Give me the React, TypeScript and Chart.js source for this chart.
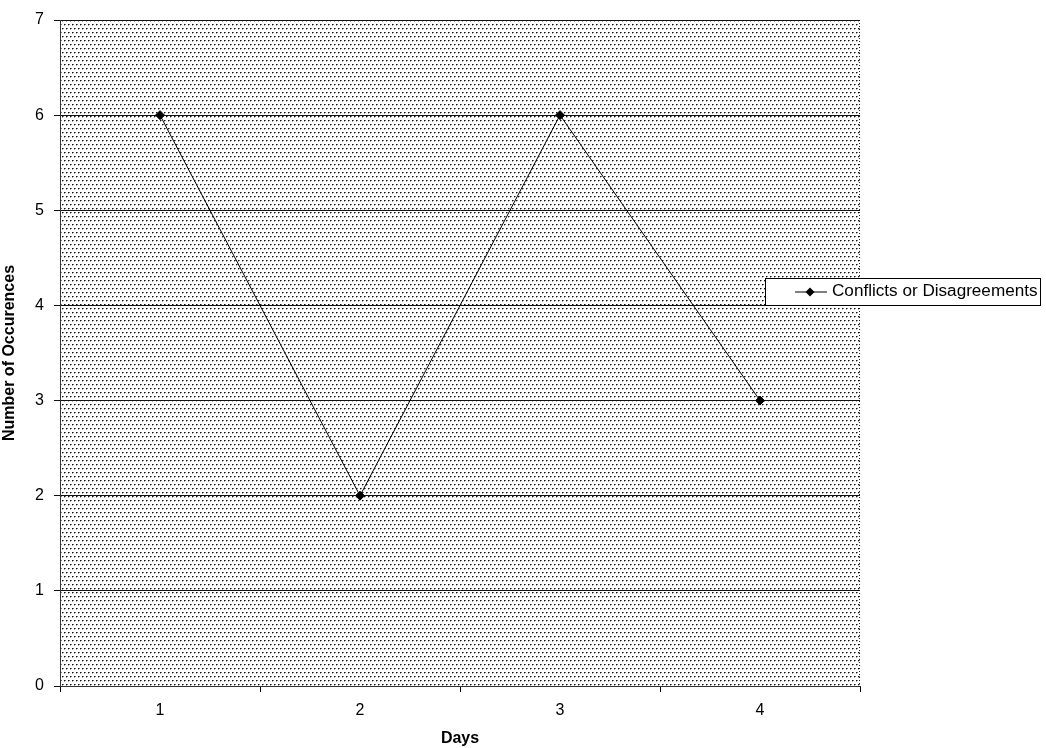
import React, { useEffect, useRef } from "react";
import { Chart, registerables } from "chart.js";

Chart.register(...registerables);

const categories = ["1", "2", "3", "4"];
const seriesName = "Conflicts or Disagreements";
const seriesValues = [6, 2, 6, 3];
const yTicks = [0, 1, 2, 3, 4, 5, 6, 7];

const FONT = "'Liberation Sans', Arial, sans-serif";

function makePattern(ctx: CanvasRenderingContext2D) {
  const c = document.createElement("canvas");
  c.width = 4;
  c.height = 8;
  const p = c.getContext("2d")!;
  p.fillStyle = "#ffffff";
  p.fillRect(0, 0, 4, 8);
  const dot = (x: number, y: number) => {
    p.fillStyle = "#111111";
    p.fillRect(x, y, 1, 1);
    p.fillStyle = "#777777";
    p.fillRect(x + 1, y, 1, 1);
    p.fillStyle = "#aaaaaa";
    p.fillRect(x, y + 1, 1, 1);
  };
  dot(0, 0);
  dot(2, 4);
  return ctx.createPattern(c, "repeat")!;
}

const bgPlugin = {
  id: "bgPattern",
  beforeDraw(chart: any) {
    const { ctx, chartArea } = chart;
    ctx.save();
    ctx.fillStyle = makePattern(ctx);
    ctx.fillRect(chartArea.left, chartArea.top, chartArea.right - chartArea.left, chartArea.bottom - chartArea.top);
    ctx.strokeStyle = "#222";
    ctx.lineWidth = 1;
    ctx.setLineDash([1, 2]);
    ctx.beginPath();
    ctx.moveTo(chartArea.left, chartArea.top + 0.5);
    ctx.lineTo(chartArea.right, chartArea.top + 0.5);
    ctx.moveTo(chartArea.right - 0.5, chartArea.top);
    ctx.lineTo(chartArea.right - 0.5, chartArea.bottom);
    ctx.stroke();
    ctx.restore();
  },
};

const legendPlugin = {
  id: "customLegend",
  afterDraw(chart: any) {
    const { ctx } = chart;
    const x = 765, y = 278, w = 275, h = 27;
    ctx.save();
    ctx.fillStyle = "#ffffff";
    ctx.fillRect(x, y, w, h);
    ctx.strokeStyle = "#000";
    ctx.lineWidth = 1;
    ctx.strokeRect(x + 0.5, y + 0.5, w, h);
    const cy = y + h / 2 + 0.5;
    ctx.beginPath();
    ctx.moveTo(x + 30, cy);
    ctx.lineTo(x + 62, cy);
    ctx.stroke();
    ctx.fillStyle = "#000";
    ctx.beginPath();
    const mx = x + 45;
    ctx.moveTo(mx, cy - 4.5);
    ctx.lineTo(mx + 4.5, cy);
    ctx.lineTo(mx, cy + 4.5);
    ctx.lineTo(mx - 4.5, cy);
    ctx.closePath();
    ctx.fill();
    ctx.font = `16px ${FONT}`;
    ctx.textBaseline = "middle";
    ctx.textAlign = "left";
    ctx.translate(x + 67, cy);
    ctx.scale(1.07, 1);
    ctx.fillText(seriesName, 0, 0);
    ctx.restore();
  },
};

export default function App() {
  const ref = useRef<HTMLCanvasElement>(null);
  useEffect(() => {
    const chart = new Chart(ref.current!, {
      type: "line",
      data: {
        labels: categories,
        datasets: [
          {
            label: seriesName,
            data: seriesValues,
            borderColor: "#000",
            borderWidth: 1,
            backgroundColor: "#000",
            pointStyle: "rectRot",
            pointRadius: 4.5,
            pointBackgroundColor: "#000",
            pointBorderColor: "#000",
            tension: 0,
            fill: false,
          },
        ],
      },
      options: {
        animation: false,
        responsive: false,
        maintainAspectRatio: false,
        layout: { padding: { top: 20, right: 186, left: 0, bottom: 0 } },
        plugins: { legend: { display: false }, tooltip: { enabled: false } },
        scales: {
          x: {
            type: "category",
            offset: true,
            grid: { offset: true, drawOnChartArea: false, tickLength: 6, color: "#000", lineWidth: 1 },
            border: { color: "#333", width: 1 },
            ticks: { color: "#000", font: { family: FONT, size: 16 }, padding: 9 },
            title: {
              display: true,
              text: "Days",
              color: "#000",
              font: { family: FONT, size: 16, weight: "bold" },
              padding: { top: 10, bottom: 0 },
            },
            afterFit(scale: any) {
              scale.height = 62;
            },
          },
          y: {
            min: 0,
            max: 7,
            afterBuildTicks(scale: any) {
              scale.ticks = yTicks.map((v) => ({ value: v }));
            },
            grid: { color: "#111", lineWidth: 1, tickLength: 6, drawTicks: true },
            border: { color: "#333", width: 1 },
            ticks: { color: "#000", font: { family: FONT, size: 16 }, padding: 10 },
            title: {
              display: true,
              text: "Number of Occurences",
              color: "#000",
              font: { family: FONT, size: 16, weight: "bold" },
              padding: { top: 0, bottom: 4 },
            },
            afterFit(scale: any) {
              scale.width = 60;
            },
          },
        },
      },
      plugins: [bgPlugin, legendPlugin],
    });
    return () => chart.destroy();
  }, []);
  return (
    <div style={{ position: "fixed", left: 0, top: 0, width: 1046, height: 748, background: "#fff" }}>
      <canvas ref={ref} width={1046} height={748} style={{ width: 1046, height: 748 }} />
    </div>
  );
}
